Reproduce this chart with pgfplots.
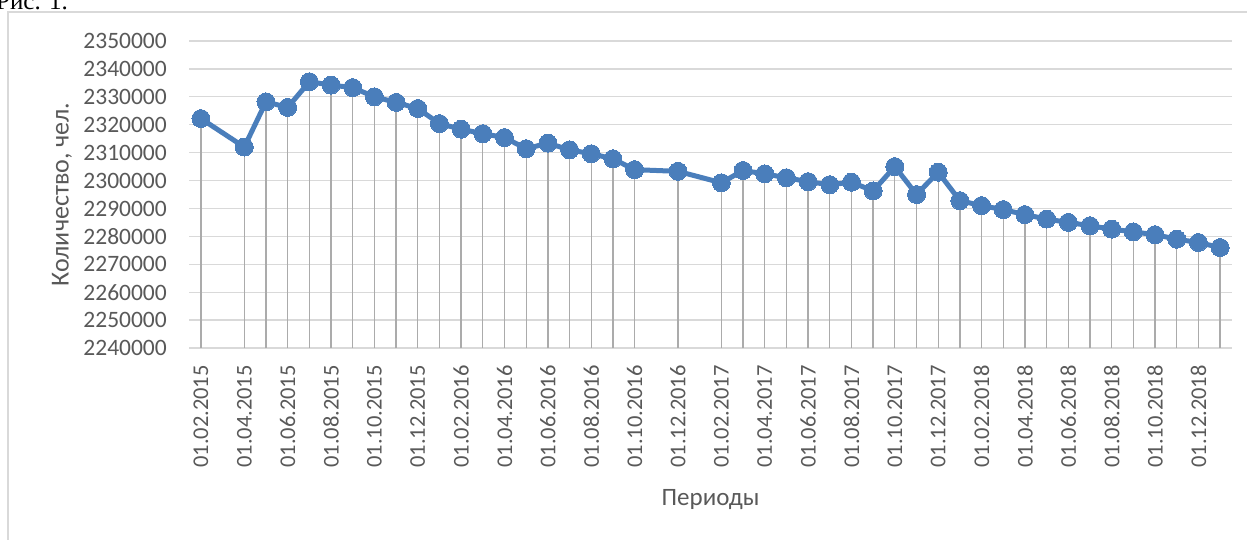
\documentclass[border=0pt]{standalone}
\usepackage{fontspec}
\setmainfont{Carlito}
\newfontfamily\seriffont{Liberation Serif}
\usepackage{pgfplots}
\pgfplotsset{compat=1.18}
\definecolor{txt}{HTML}{595959}
\definecolor{gridc}{HTML}{D9D9D9}
\definecolor{dropc}{HTML}{ABABAB}
\definecolor{ser}{HTML}{4A7EBB}
\pgfplotstableread{
x y
0 2322200
2 2312000
3 2328200
4 2326200
5 2335400
6 2334200
7 2333300
8 2330000
9 2328000
10 2325800
11 2320400
12 2318400
13 2316800
14 2315400
15 2311400
16 2313400
17 2311000
18 2309600
19 2307800
20 2303900
22 2303300
24 2299200
25 2303600
26 2302400
27 2301000
28 2299600
29 2298500
30 2299400
31 2296300
32 2305000
33 2295000
34 2303000
35 2292800
36 2291000
37 2289600
38 2287800
39 2286200
40 2285000
41 2283800
42 2282600
43 2281600
44 2280600
45 2279000
46 2277800
47 2276000
}\datatable
\begin{document}
\begin{tikzpicture}[x=1pt,y=1pt]
\useasboundingbox (0,0) rectangle (1247,539);
\fill[white] (0,0) rectangle (1247,539);
\node[anchor=base west, inner sep=0pt, font=\seriffont\fontsize{25}{30}\selectfont] at (-4,529) {Рис. 1.};
\draw[gridc, line width=1.3pt] (8,-5) -- (8,527) -- (1255,527);
\begin{axis}[at={(189pt,191pt)}, anchor=south west, scale only axis,
  width=1043pt, height=307pt,
  xmin=-0.55, xmax=47.55, ymin=2240000, ymax=2350000,
  scaled y ticks=false, scaled x ticks=false,
  axis line style={draw=none}, tick style={draw=none},
  ytick={2240000,2250000,2260000,2270000,2280000,2290000,2300000,2310000,2320000,2330000,2340000,2350000},
  yticklabels={2240000,2250000,2260000,2270000,2280000,2290000,2300000,2310000,2320000,2330000,2340000,2350000},
  xtick={0,2,4,6,8,10,12,14,16,18,20,22,24,26,28,30,32,34,36,38,40,42,44,46},
  xticklabels={01.02.2015,01.04.2015,01.06.2015,01.08.2015,01.10.2015,01.12.2015,
    01.02.2016,01.04.2016,01.06.2016,01.08.2016,01.10.2016,01.12.2016,
    01.02.2017,01.04.2017,01.06.2017,01.08.2017,01.10.2017,01.12.2017,
    01.02.2018,01.04.2018,01.06.2018,01.08.2018,01.10.2018,01.12.2018},
  ymajorgrids, grid style={gridc, line width=1.3pt},
  tick label style={font=\fontsize{22.5}{26}\selectfont, text=txt, inner sep=0pt},
  yticklabel style={anchor=east, font=\fontsize{23.5}{26}\selectfont},
  yticklabel shift=22pt,
  xticklabel style={rotate=90, anchor=east},
  xticklabel shift=17pt,
  xlabel={Периоды}, ylabel={Количество, чел.},
  every axis x label/.style={at={(axis description cs:0.5,-0.4951)}, anchor=center, font=\fontsize{25}{30}\selectfont, text=txt},
  every axis y label/.style={at={(axis description cs:-0.1218,0.5)}, rotate=90, anchor=center, font=\fontsize{26}{30}\selectfont, text=txt},
]
\addplot[ycomb, dropc, line width=1.3pt] table[x=x,y=y] {\datatable};
\addplot[ser, line width=5pt, line join=round, mark=*, mark size=9pt, mark options={fill=ser, draw=ser, line width=0pt}] table[x=x,y=y] {\datatable};
\end{axis}
\end{tikzpicture}
\end{document}
